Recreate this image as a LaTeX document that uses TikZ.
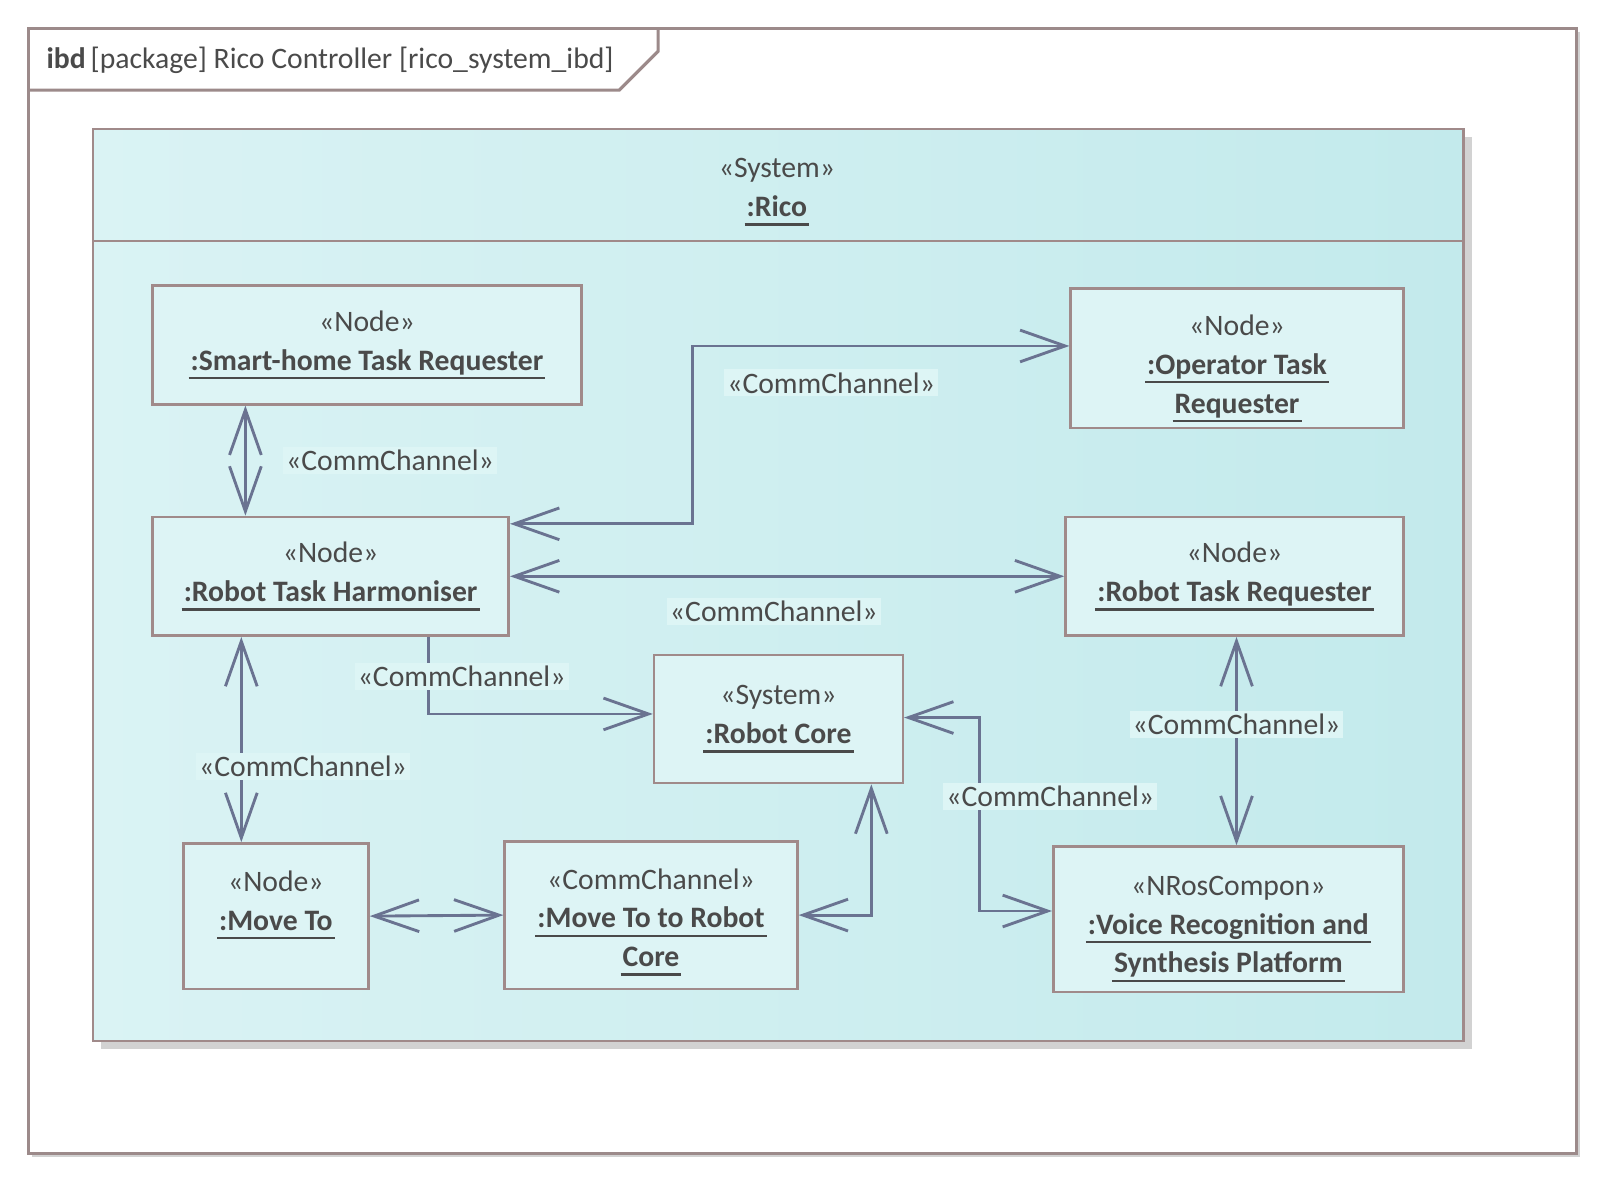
\documentclass[tikz,border=0pt]{standalone}
\usepackage{fontspec}
\setmainfont{Carlito}
\usetikzlibrary{arrows.meta}
\definecolor{framegray}{HTML}{9C8A8A}
\definecolor{boxedge}{HTML}{A08A8A}
\definecolor{boxfill}{HTML}{DDF4F5}
\definecolor{wire}{HTML}{6A7391}
\definecolor{inktext}{HTML}{4A4A4A}
\definecolor{bgleft}{HTML}{DAF3F4}
\definecolor{bgright}{HTML}{C3EAEC}
\definecolor{shadowgray}{HTML}{D2D2D2}
\definecolor{tagfill}{HTML}{DDF5F5}
% underlined part name
\newcommand\ulpart[1]{\setbox0\hbox{\bfseries #1}\leavevmode\rlap{\kern-2pt\color{inktext}\rule[-9pt]{\dimexpr\wd0+4pt\relax}{2.5pt}}\box0}
% pads to move the text up or down in a box
\newcommand\padtop[1]{\rule{0pt}{#1}}
\newcommand\padbot[1]{\rule[-#1]{0pt}{0pt}}
\tikzset{
>={Straight Barb[length=44pt,width=31pt]},
  part/.style={
    rectangle,
    draw=boxedge, line width=2.5pt,
    fill=boxfill,
    text=inktext,
    align=center,
    inner sep=0pt,
    font=\fontsize{29}{38}\selectfont},
  channel/.style={draw=wire, line width=2.8pt},
  chanlabel/.style={
    fill=tagfill,
    text=inktext,
    inner xsep=3pt, inner ysep=3pt,
    font=\fontsize{29}{34}\selectfont},
  frameline/.style={draw=framegray, line width=3pt},
}
\begin{document}
\begin{tikzpicture}[x=1pt,y=-1pt]
  \useasboundingbox (0,0) rectangle (1568,1155);
  % diagram frame
  \draw[shadowgray, line width=2pt] (1542.5,31) -- (1542.5,1129.5) -- (31,1129.5);
  \draw[frameline, fill=white] (28,28) rectangle (1540,1127);
  \draw[frameline] (28,88) -- (605,88) -- (643,50) -- (643,28);
  \node[anchor=base west, text=inktext, font=\fontsize{29}{34}\selectfont]
    (frametitle) at (42,67) {\textbf{ibd}\,[package] Rico Controller [rico\_system\_ibd]};

  % the system block
  \fill[shadowgray] (99,134) rectangle (1438,1025);
  \shade[left color=bgleft, right color=bgright] (91,126) rectangle (1430,1017);
  \draw[draw=boxedge, line width=2.5pt] (91,126) rectangle (1430,1017);
  \draw[draw=boxedge, line width=2pt] (91,235) -- (1430,235);
  \node[text=inktext, align=center, font=\fontsize{29}{38}\selectfont]
    (rico) at (759,183) {\padtop{28pt}«System»\\\ulpart{:Rico}};

  \node[part, minimum width=419pt, minimum height=116pt] (smart) at (358.5,337)
    {«Node»\\\ulpart{:Smart-home Task Requester}};
  \node[part, minimum width=325pt, minimum height=136pt] (oper) at (1208.5,350)
    {\padtop{40pt}«Node»\\\ulpart{:Operator Task}\\\ulpart{Requester}};
  \node[part, minimum width=348pt, minimum height=116pt] (harm) at (323,563)
    {«Node»\\\ulpart{:Robot Task Harmoniser}};
  \node[part, minimum width=330pt, minimum height=116pt] (req) at (1206,563)
    {«Node»\\\ulpart{:Robot Task Requester}};
  \node[part, minimum width=243pt, minimum height=125pt] (core) at (760.5,702.5)
    {«System»\\\ulpart{:Robot Core}};
  \node[part, minimum width=181pt, minimum height=142pt] (move) at (269.5,895)
    {«Node»\\\ulpart{:Move To}\padbot{31pt}};
  \node[part, minimum width=286pt, minimum height=144pt] (mtrc) at (636,894)
    {\padtop{34pt}«CommChannel»\\\ulpart{:Move To to Robot}\\\ulpart{Core}};
  \node[part, minimum width=342pt, minimum height=142pt] (voice) at (1200,898)
    {\padtop{38pt}«NRosCompon»\\\ulpart{:Voice Recognition and}\\\ulpart{Synthesis Platform}};

  \coordinate (eTop) at ([xshift=88pt]harm.south west);
  \coordinate (eBot) at (eTop |- move.north);
  \coordinate (iTop) at ([xshift=2pt]req.south);
  \coordinate (iBot) at (iTop |- voice.north);

  \draw[channel,<->] ([xshift=92pt]smart.south west) -- ([xshift=92pt]harm.north west);
  \draw[channel,<->] ([yshift=-8pt]harm.north east) -- ++(178pt,0pt) |- ([yshift=12pt]oper.west);
  \draw[channel,<->] (harm.east) -- (req.west);
  \draw[channel,->] ([xshift=-80pt]harm.south east) |- ([yshift=5pt]core.west);
  \draw[channel,<->] (eTop) -- (eBot);
  \draw[channel,<->] (move.east) -- (mtrc.west);
  \draw[channel,<->] (mtrc.east) -| ([xshift=-32pt]core.south east);
  \draw[channel,<->] ([yshift=1.5pt]core.east) -- ++(74pt,0pt) |- ([yshift=8pt]voice.west);
  \draw[channel,<->] (iTop) -- (iBot);

  % connector labels
  \node[chanlabel] (lblsmart) at (381,450) {«CommChannel»};
  \node[chanlabel] (lbloper)  at (812,374) {«CommChannel»};
  \node[chanlabel] (lblreq)   at (756,597) {«CommChannel»};
  \node[chanlabel] (lblcore)  at (451,661) {«CommChannel»};
  \node[chanlabel] (lblmove)  at (296,749) {«CommChannel»};
  \node[chanlabel] (lblvoice) at (1026,778) {«CommChannel»};
  \node[chanlabel] (lblvreq)  at (1208,708) {«CommChannel»};
\end{tikzpicture}
\end{document}
